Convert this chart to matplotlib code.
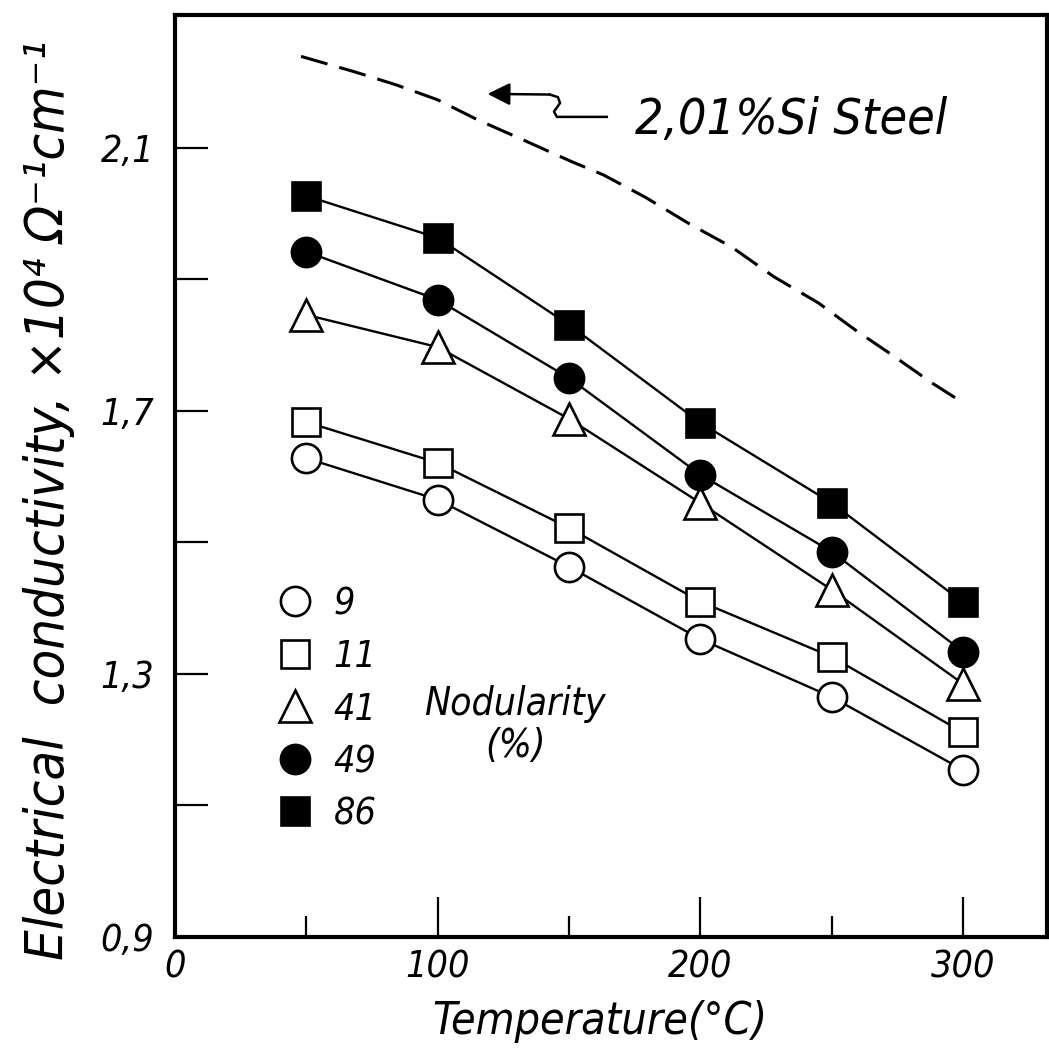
import matplotlib.pyplot as plt
from matplotlib.lines import Line2D
from matplotlib.ticker import FixedLocator

# ======================
# fonts (condensed oblique, closest to the hand lettering)
# ======================
plt.rcParams["font.family"] = ["DejaVu Sans"]
plt.rcParams["font.style"] = "oblique"
plt.rcParams["font.stretch"] = "condensed"

# ======================
# data
# ======================
temperature = [50, 100, 150, 200, 250, 300]
nod_9 = [1.628, 1.565, 1.463, 1.353, 1.265, 1.154]
nod_11 = [1.683, 1.621, 1.522, 1.410, 1.326, 1.211]
nod_41 = [1.846, 1.797, 1.688, 1.560, 1.428, 1.285]
nod_49 = [1.942, 1.869, 1.750, 1.603, 1.486, 1.334]
nod_86 = [2.027, 1.963, 1.831, 1.682, 1.560, 1.409]

# 2,01 % Si steel (dashed curve)
steel_t = [48, 68, 84, 100, 115, 132, 151, 163, 179, 196, 212, 228, 245, 259, 273, 288, 297]
steel_s = [2.239, 2.216, 2.196, 2.173, 2.143, 2.113, 2.079, 2.059, 2.025, 1.984,
           1.949, 1.904, 1.864, 1.823, 1.785, 1.743, 1.720]

nodularity_labels = ["9", "11", "41", "49", "86"]
y_tick_vals = [0.9, 1.3, 1.7, 2.1]
y_tick_text = ["0,9", "1,3", "1,7", "2,1"]
y_minor_vals = [1.1, 1.5, 1.9]
x_tick_vals = [0, 100, 200, 300]
x_minor_vals = [50, 150, 250]

# squiggly leader from the steel label to the dashed curve
leader_x = [164.4, 145.4, 144.3, 146.6, 145.8, 142.7]
leader_y = [2.147, 2.147, 2.155, 2.168, 2.177, 2.181]
arrow_tip = (119.0, 2.182)

# ======================
# plot
# ======================
fig = plt.figure(figsize=(10.49, 10.61), dpi=100)
ax = fig.add_axes([0.1668, 0.1169, 0.8313, 0.869])

series = [
    (nod_9, "o", "white"),
    (nod_11, "s", "white"),
    (nod_41, "^", "white"),
    (nod_49, "o", "black"),
    (nod_86, "s", "black"),
]
ms = {"o": 21, "s": 20, "^": 23}
for vals, mk, fc in series:
    ax.plot(temperature, vals, color="black", lw=1.7, marker=mk, ms=ms[mk],
            mfc=fc, mec="black", mew=1.9, zorder=3)

ax.plot(steel_t, steel_s, color="black", lw=2.2, dashes=(9, 4))

# leader + arrow
ax.plot(leader_x, leader_y, color="black", lw=1.8)
ax.annotate("", xy=arrow_tip, xytext=(leader_x[-1], leader_y[-1]),
            arrowprops=dict(arrowstyle="-|>", color="black", lw=1.8,
                            mutation_scale=34, shrinkA=0, shrinkB=0))
ax.text(175, 2.1426, "2,01%Si Steel", fontsize=36, ha="left", va="center")

# legend (markers only)
handles = [Line2D([], [], ls="none", marker=mk, ms=ms[mk], mfc=fc, mec="black", mew=1.9)
           for _, mk, fc in series]
ax.legend(handles, nodularity_labels, loc="upper left", bbox_to_anchor=(0.115, 0.380),
          frameon=False, fontsize=27, handlelength=1.05, handletextpad=0.5,
          labelspacing=0.44, borderpad=0, borderaxespad=0)
ax.text(0.390, 0.230, "Nodularity\n(%)", transform=ax.transAxes, fontsize=28,
        ha="center", va="center", multialignment="center", linespacing=1.15)

# ======================
# axes
# ======================
ax.set_xlim(0, 332)
ax.set_ylim(0.9, 2.302)

ax.yaxis.set_major_locator(FixedLocator(y_tick_vals))
ax.yaxis.set_minor_locator(FixedLocator(y_minor_vals))
ax.set_yticklabels(y_tick_text)
ax.xaxis.set_major_locator(FixedLocator(x_tick_vals))
ax.xaxis.set_minor_locator(FixedLocator(x_minor_vals))

ax.tick_params(axis="y", which="both", direction="in", length=24, width=1.6,
               labelsize=27, pad=15)
ax.tick_params(axis="x", which="major", direction="in", length=29, width=1.6,
               labelsize=27, pad=9)
ax.tick_params(axis="x", which="minor", direction="in", length=15, width=1.6)

for sp in ax.spines.values():
    sp.set_linewidth(3)

ax.set_xlabel("Temperature(°C)", fontsize=32)
ax.xaxis.set_label_coords(0.487, -0.068)
ax.xaxis.label.set_va("top")
ax.set_ylabel("Electrical  conductivity, ×10⁴ Ω⁻¹cm⁻¹", fontsize=39)
ax.yaxis.set_label_coords(-0.115, 0.474)

plt.savefig("out.png", dpi=100)
